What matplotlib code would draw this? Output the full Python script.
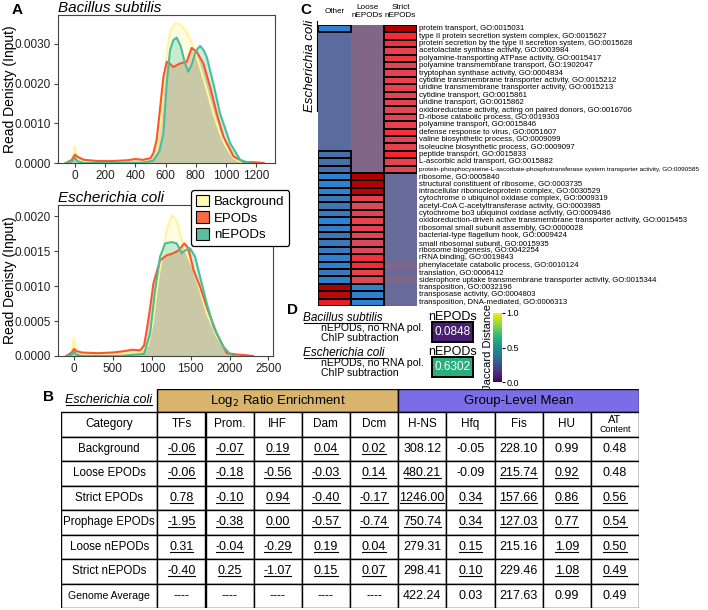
import matplotlib
matplotlib.use('Agg')
import matplotlib.pyplot as plt
from matplotlib.patches import Rectangle, Patch
from matplotlib.lines import Line2D
from matplotlib.colors import LinearSegmentedColormap, Normalize
from matplotlib.cm import ScalarMappable
import numpy as np

plt.rcParams['font.family'] = ['Liberation Sans', 'DejaVu Sans']

# ---------------- data: panel A (densities, values x1e-3) ----------------
bs_bg_x = [-60, -20, -5, 0, 5, 20, 60, 150, 300, 450, 500, 540, 565, 590, 610, 630, 667, 700,
           740, 785, 829, 873, 917, 961, 1000, 1028, 1060, 1094, 1130]
bs_bg_y = [0, 0.05, 0.3, 0.42, 0.3, 0.08, 0.04, 0.02, 0.03, 0.05, 0.1, 0.3, 1.0, 2.0, 2.8, 3.3, 3.53, 3.48,
           3.3, 2.92, 2.42, 1.84, 1.25, 0.75, 0.42, 0.25, 0.1, 0.04, 0]
bs_ep_x = [-60, -20, 0, 20, 60, 150, 250, 350, 398, 450, 500, 520, 541, 563, 586, 608, 630, 652, 696,
           740, 773, 807, 851, 895, 939, 983, 1050, 1116, 1226, 1250]
bs_ep_y = [0, 0.08, 0.21, 0.15, 0.08, 0.05, 0.05, 0.07, 0.1, 0.08, 0.12, 0.25, 0.58, 1.34, 2.17, 2.55, 2.5,
           2.42, 2.51, 2.55, 2.9, 2.8, 2.51, 1.92, 1.25, 0.67, 0.17, 0.03, 0.01, 0]
bs_ne_x = [-60, -20, 0, 20, 60, 200, 450, 520, 560, 586, 608, 630, 652, 674, 700, 730, 751, 775, 800,
           829, 851, 873, 917, 961, 1028, 1094, 1138, 1160]
bs_ne_y = [0, 0.04, 0.13, 0.04, 0.0, 0.0, 0.01, 0.06, 0.3, 0.75, 2.0, 2.84, 3.1, 3.16, 2.95, 2.5, 2.3, 2.5, 2.82,
           2.95, 2.85, 2.67, 2.0, 1.25, 0.5, 0.08, 0.02, 0]

ec_bg_x = [-100, -30, 0, 30, 100, 300, 500, 700, 850, 950, 1010, 1063, 1128, 1192, 1256, 1321, 1385,
           1449, 1535, 1621, 1707, 1835, 1964, 2050, 2100]
ec_bg_y = [0, 0.05, 0.25, 0.06, 0.04, 0.03, 0.03, 0.05, 0.06, 0.15, 0.45, 0.94, 1.42, 1.8, 2.01, 1.94, 1.66,
           1.47, 1.23, 0.94, 0.61, 0.28, 0.06, 0.01, 0]
ec_ep_x = [-100, -30, 0, 30, 100, 300, 500, 650, 750, 850, 900, 935, 980, 1021, 1106, 1192, 1278, 1342,
           1419, 1471, 1535, 1621, 1707, 1835, 1964, 2100, 2221, 2300]
ec_ep_y = [0, 0.05, 0.1, 0.07, 0.05, 0.04, 0.05, 0.07, 0.09, 0.08, 0.15, 0.37, 0.7, 1.04, 1.37, 1.44, 1.47, 1.51,
           1.61, 1.54, 1.23, 0.99, 0.7, 0.32, 0.04, 0.02, 0.01, 0]
ec_ne_x = [-100, -30, 0, 30, 100, 600, 900, 978, 1042, 1106, 1171, 1256, 1321, 1385, 1428, 1492, 1557,
           1621, 1707, 1792, 1921, 2007, 2060]
ec_ne_y = [0, 0.02, 0.06, 0.02, 0, 0, 0.03, 0.32, 0.94, 1.42, 1.61, 1.63, 1.61, 1.47, 1.51, 1.54, 1.42,
           1.13, 0.75, 0.42, 0.13, 0.03, 0]

# ---------------- data: panel C (GO enrichment heatmap) ----------------
go_terms = [
    'protein transport, GO:0015031',
    'type II protein secretion system complex, GO:0015627',
    'protein secretion by the type II secretion system, GO:0015628',
    'acetolactate synthase activity, GO:0003984',
    'polyamine-transporting ATPase activity, GO:0015417',
    'polyamine transmembrane transport, GO:1902047',
    'tryptophan synthase activity, GO:0004834',
    'cytidine transmembrane transporter activity, GO:0015212',
    'uridine transmembrane transporter activity, GO:0015213',
    'cytidine transport, GO:0015861',
    'uridine transport, GO:0015862',
    'oxidoreductase activity, acting on paired donors, GO:0016706',
    'D-ribose catabolic process, GO:0019303',
    'polyamine transport, GO:0015846',
    'defense response to virus, GO:0051607',
    'valine biosynthetic process, GO:0009099',
    'isoleucine biosynthetic process, GO:0009097',
    'peptide transport, GO:0015833',
    'L-ascorbic acid transport, GO:0015882',
    'protein-phosphocysteine-L-ascorbate-phosphotransferase system transporter activity, GO:0090585',
    'ribosome, GO:0005840',
    'structural constituent of ribosome, GO:0003735',
    'intracellular ribonucleoprotein complex, GO:0030529',
    'cytochrome o ubiquinol oxidase complex, GO:0009319',
    'acetyl-CoA C-acetyltransferase activity, GO:0003985',
    'cytochrome bo3 ubiquinol oxidase activity, GO:0009486',
    'oxidoreduction-driven active transmembrane transporter activity, GO:0015453',
    'ribosomal small subunit assembly, GO:0000028',
    'bacterial-type flagellum hook, GO:0009424',
    'small ribosomal subunit, GO:0015935',
    'ribosome biogenesis, GO:0042254',
    'rRNA binding, GO:0019843',
    'phenylacetate catabolic process, GO:0010124',
    'translation, GO:0006412',
    'siderophore uptake transmembrane transporter activity, GO:0015344',
    'transposition, GO:0032196',
    'transposase activity, GO:0004803',
    'transposition, DNA-mediated, GO:0006313',
]
heat_cols = ['Other', 'Loose\nnEPODs', 'Strict\nnEPODs']
other_val = [-0.95] + [-0.2] * 15 + [-0.25] + [-0.6, -0.6, -0.55] + \
            [-0.95, -0.95, -0.95, -0.75, -0.7, -0.8, -0.95, -0.9, -0.7, -0.75, -0.8, -0.95, -0.95, -0.75, -0.9] + \
            [1.0, 0.97, 0.9]
loose_val = [0.2] * 20 + \
            [1.0, 1.0, 0.98, 0.7, 0.55, 0.7, 0.7, 0.7, 0.7, 0.55, 0.6, 0.8, 0.85, 0.7, 0.55] + \
            [-0.95, -0.95, -0.95]
strict_val = [1.0, 0.85, 0.8, 0.7, 0.75, 0.65, 0.7, 0.7, 0.7, 0.7, 0.65, 0.65, 0.65, 0.7, 0.8, 0.65, 0.7,
              0.88, 0.7, 0.6] + [-0.1] * 12 + [0.15, -0.1, 0.15, -0.1, -0.1, -0.1]
other_sig = [1] + [0] * 16 + [1] * 21
loose_sig = [0] * 20 + [1] * 18
strict_sig = [1] * 20 + [0] * 18

# ---------------- data: panel D ----------------
jaccard_bs = 0.0848
jaccard_ec = 0.6302

# ---------------- data: panel B (table) ----------------
tbl_header = ['Category', 'TFs', 'Prom.', 'IHF', 'Dam', 'Dcm', 'H-NS', 'Hfq', 'Fis', 'HU', 'AT']
tbl_cats = ['Background', 'Loose EPODs', 'Strict EPODs', 'Prophage EPODs', 'Loose nEPODs',
            'Strict nEPODs', 'Genome Average']
tbl_vals = [
    ['-0.06', '-0.07', '0.19', '0.04', '0.02', '308.12', '-0.05', '228.10', '0.99', '0.48'],
    ['-0.06', '-0.18', '-0.56', '-0.03', '0.14', '480.21', '-0.09', '215.74', '0.92', '0.48'],
    ['0.78', '-0.10', '0.94', '-0.40', '-0.17', '1246.00', '0.34', '157.66', '0.86', '0.56'],
    ['-1.95', '-0.38', '0.00', '-0.57', '-0.74', '750.74', '0.34', '127.03', '0.77', '0.54'],
    ['0.31', '-0.04', '-0.29', '0.19', '0.04', '279.31', '0.15', '215.16', '1.09', '0.50'],
    ['-0.40', '0.25', '-1.07', '0.15', '0.07', '298.41', '0.10', '229.46', '1.08', '0.49'],
    ['----', '----', '----', '----', '----', '422.24', '0.03', '217.63', '0.99', '0.49'],
]
tbl_under = ['1111100000', '1111110110', '1111111111', '1111111111',
             '1111101011', '1111101011', '0000000000']

# ---------------- layout helpers ----------------
W, H = 708, 610
fig = plt.figure(figsize=(7.08, 6.10), dpi=100)


def box(x0, y0, x1, y1):
    return [x0 / W, 1 - y1 / H, (x1 - x0) / W, (y1 - y0) / H]


def fx(px):
    return px / W


def fy(py):
    return 1 - py / H


underline = []   # (text, rotated)

c_bg, c_ep, c_ne = '#FFF59A', '#F9572A', '#45BF9B'


def density_panel(rect, series, xt, xlim, ylim, yt, title, width_px):
    ax = fig.add_axes(rect)
    for x, y, c in series:
        y = np.array(y) * 1e-3
        ax.fill_between(x, y, color=c, alpha=0.28, lw=0)
    for x, y, c in series:
        ax.plot(x, np.array(y) * 1e-3, color=c, lw=1.5)
    ax.set_xlim(*xlim)
    ax.set_ylim(*ylim)
    ax.set_xticks(xt)
    ax.set_yticks(yt)
    ax.set_yticklabels(['%.4f' % v for v in yt])
    ax.tick_params(labelsize=8.5, length=3, color='#444444', labelcolor='#222222', pad=2)
    for s in ax.spines.values():
        s.set_color('#444444')
        s.set_linewidth(0.8)
    ax.set_ylabel('Read Denisty (Input)', fontsize=10)
    ax.yaxis.set_label_coords((17 - 58) / width_px, 0.5)
    ax.set_title(title, style='italic', fontsize=11, loc='left', pad=1)
    return ax


ax_a1 = density_panel(box(58, 15, 275, 163),
                      [(bs_bg_x, bs_bg_y, c_bg), (bs_ep_x, bs_ep_y, c_ep), (bs_ne_x, bs_ne_y, c_ne)],
                      [0, 200, 400, 600, 800, 1000, 1200], (-112, 1325), (0, 0.00373),
                      [0, 0.001, 0.002, 0.003], 'Bacillus subtilis', 217)
ax_a2 = density_panel(box(58, 205, 273, 356),
                      [(ec_bg_x, ec_bg_y, c_bg), (ec_ep_x, ec_ep_y, c_ep), (ec_ne_x, ec_ne_y, c_ne)],
                      [0, 500, 1000, 1500, 2000, 2500], (-206, 2558), (0, 0.00216),
                      [0, 0.0005, 0.001, 0.0015, 0.002], 'Escherichia coli', 215)
fig.text(fx(12), fy(10), 'A', fontsize=11, weight='bold', va='center')

handles = [Patch(fc='#FFFAB0', ec='black', lw=0.8), Patch(fc='#F76A42', ec='black', lw=0.8),
           Patch(fc='#58BE9E', ec='black', lw=0.8)]
leg = fig.legend(handles, ['Background', 'EPODs', 'nEPODs'], loc='upper left',
                 bbox_to_anchor=(fx(191), fy(190)), borderaxespad=0, fontsize=9.5,
                 handlelength=1.0, handleheight=1.0, labelspacing=0.25, handletextpad=0.4,
                 borderpad=0.35, fancybox=True, framealpha=1, edgecolor='black')
leg.get_frame().set_linewidth(0.9)

# ---------------- panel C ----------------
cmap = LinearSegmentedColormap.from_list('goheat', [
    (0.0, '#2B84D6'), (0.2, '#4670A8'), (0.4, '#5C6C9E'), (0.45, '#676C9A'),
    (0.55, '#7B678F'), (0.6, '#826687'), (0.75, '#D34E5E'), (0.85, '#E8424E'),
    (0.94, '#FF2232'), (1.0, '#B00000')])
M = np.array([other_val, loose_val, strict_val]).T
S = np.array([other_sig, loose_sig, strict_sig]).T
ax_c = fig.add_axes(box(318, 25, 417, 306))
ax_c.imshow(M, cmap=cmap, vmin=-1, vmax=1, aspect='auto', interpolation='nearest')
for i in range(M.shape[0]):
    for j in range(M.shape[1]):
        if S[i, j]:
            ax_c.add_patch(Rectangle((j - 0.5, i - 0.5), 1, 1, fill=False, ec='black', lw=1.3))
ax_c.set_xlim(-0.5, 2.5)
ax_c.set_ylim(len(go_terms) - 0.5, -0.5)
ax_c.axis('off')
narrow = ['Liberation Sans Narrow', 'Liberation Sans', 'DejaVu Sans']
for i, term in enumerate(go_terms):
    fs = 4.6 if len(term) > 80 else 5.6
    ax_c.text(2.56, i, term, fontsize=fs, family=narrow, va='center', ha='left')
for j, name in enumerate(heat_cols):
    ax_c.text(j, -2.3, name, fontsize=5.9, ha='center', va='center', linespacing=1.1)
fig.text(fx(300), fy(10), 'C', fontsize=11, weight='bold', va='center')
t = fig.text(fx(310), fy(66), 'Escherichia coli', rotation=90, style='italic', fontsize=9.5,
             ha='center', va='center')
underline.append((t, True))

# ---------------- panel D ----------------
fig.text(fx(287), fy(310), 'D', fontsize=11, weight='bold', va='center')
for name, val, ytop in [('Bacillus subtilis', jaccard_bs, 322), ('Escherichia coli', jaccard_ec, 357)]:
    t = fig.text(fx(303), fy(ytop - 4), name, style='italic', fontsize=8.5, va='center')
    underline.append((t, False))
    fig.text(fx(453), fy(ytop - 5), 'nEPODs', fontsize=9, ha='center', va='center')
    fig.text(fx(321), fy(ytop + 11), 'nEPODs, no RNA pol.\nChIP subtraction', fontsize=7.6,
             va='center', linespacing=0.95)
    axd = fig.add_axes(box(432, ytop, 473, ytop + 20))
    axd.imshow([[val]], cmap='viridis', vmin=0, vmax=1, aspect='auto')
    axd.text(0, 0, '%.4f' % val, color='white', fontsize=8.5, ha='center', va='center')
    axd.set_xticks([])
    axd.set_yticks([])
    for s in axd.spines.values():
        s.set_linewidth(1.4)
cax = fig.add_axes(box(493, 313, 502, 382))
cb = fig.colorbar(ScalarMappable(Normalize(0, 1), 'viridis'), cax=cax, ticks=[0, 0.5, 1])
cb.outline.set_visible(False)
cb.ax.set_yticklabels(['0.0', '0.5', '1.0'])
cb.ax.tick_params(labelsize=6.5, length=2, pad=1)
cb.set_label('Jaccard Distance', fontsize=8, labelpad=0)
cb.ax.yaxis.set_label_position('left')

# ---------------- panel B ----------------
fig.text(fx(43), fy(397), 'B', fontsize=11, weight='bold', va='center')
t = fig.text(fx(65), fy(400), 'Escherichia coli', style='italic', fontsize=9, va='center')
underline.append((t, False))
widths = [2] + [1] * 10
edges = np.concatenate([[0], np.cumsum(widths)])
hdr_h = 0.95
ax_t = fig.add_axes(box(61, 389, 639, 608))
ax_t.set_xlim(0, edges[-1])
ax_t.set_ylim(hdr_h + 8, 0)
ax_t.axis('off')
ax_t.add_patch(Rectangle((edges[1], 0), edges[6] - edges[1], hdr_h, fc='#D8B46C', ec='black', lw=1))
ax_t.add_patch(Rectangle((edges[6], 0), edges[11] - edges[6], hdr_h, fc='#7B6DE6', ec='black', lw=1))
ax_t.text((edges[1] + edges[6]) / 2, hdr_h / 2, 'Log$_2$ Ratio Enrichment', ha='center', va='center',
          fontsize=9.5)
ax_t.text((edges[6] + edges[11]) / 2, hdr_h / 2, 'Group-Level Mean', ha='center', va='center',
          fontsize=9.5)
for r in range(8):
    y0 = hdr_h + r
    for c in range(11):
        ax_t.add_patch(Rectangle((edges[c], y0), widths[c], 1, fc='white', ec='black', lw=1))
        xc = edges[c] + widths[c] / 2
        if r == 0:
            if tbl_header[c] == 'AT':
                ax_t.text(xc, y0 + 0.3, 'AT', ha='center', va='center', fontsize=8)
                ax_t.text(xc, y0 + 0.72, 'Content', ha='center', va='center', fontsize=6.5)
            else:
                ax_t.text(xc, y0 + 0.5, tbl_header[c], ha='center', va='center', fontsize=8.5)
        elif c == 0:
            fs = 7.6 if tbl_cats[r - 1] == 'Genome Average' else 8.3
            ax_t.text(xc, y0 + 0.5, tbl_cats[r - 1], ha='center', va='center', fontsize=fs)
        else:
            t = ax_t.text(xc, y0 + 0.5, tbl_vals[r - 1][c - 1], ha='center', va='center', fontsize=9)
            if tbl_under[r - 1][c - 1] == '1':
                underline.append((t, False))

# ---------------- underlines ----------------
fig.canvas.draw()
rend = fig.canvas.get_renderer()
inv = fig.transFigure.inverted()
for t, rot in underline:
    bb = t.get_window_extent(rend)
    if rot:
        x = bb.x1 + 0.5
        (x0, y0), (x1, y1) = inv.transform([(x, bb.y0 + 1), (x, bb.y1 - 1)])
    else:
        y = bb.y0 + 1.0
        (x0, y0), (x1, y1) = inv.transform([(bb.x0 + 0.5, y), (bb.x1 - 0.5, y)])
    fig.add_artist(Line2D([x0, x1], [y0, y1], color='black', lw=0.8))

fig.savefig('out.png', dpi=100)
